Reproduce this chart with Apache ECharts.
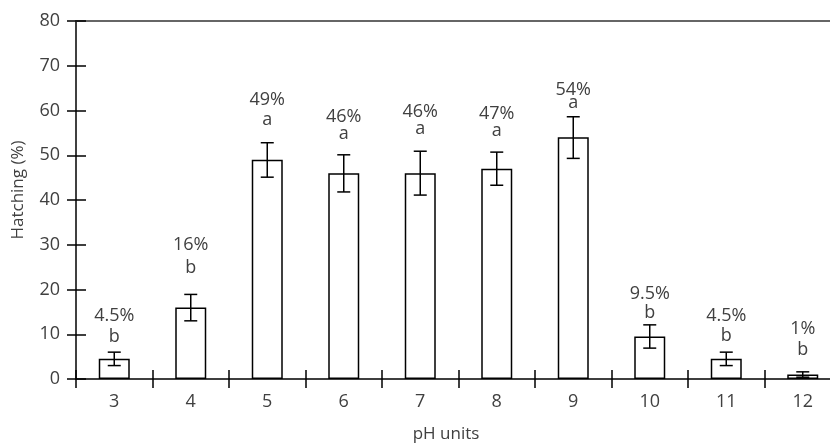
<!DOCTYPE html>
<html>
<head>
<meta charset="utf-8">
<script src="https://cdn.jsdelivr.net/npm/echarts@6/dist/echarts.min.js"></script>
<style>
html,body{margin:0;padding:0;background:#fff;}
#chart{width:830px;height:443px;}
</style>
</head>
<body>
<div id="chart"></div>
<script>
const categories = ['3','4','5','6','7','8','9','10','11','12'];
const hatching = [4.5, 16, 49, 46, 46, 47, 54, 9.5, 4.5, 1];
const errLow  = [3.0, 13.0, 45.1, 41.8, 41.1, 43.3, 49.3, 6.9, 3.0, 0.4];
const errHigh = [6.0, 18.9, 52.8, 50.1, 50.9, 50.7, 58.6, 12.1, 6.0, 1.6];
const pctLabels = ['4.5%','16%','49%','46%','46%','47%','54%','9.5%','4.5%','1%'];
const groupLetters = ['b','b','a','a','a','a','a','b','b','b'];
const pctLabelAt = [14.1, 29.9, 62.3, 58.5, 59.6, 59.2, 64.7, 19.0, 14.1, 11.3];
const letterLabelAt = [9.5, 24.9, 57.9, 54.7, 56.0, 55.4, 61.8, 14.7, 9.6, 6.5];
const yTicks = {min: 0, max: 80, interval: 10};

const FONT = '"Open Sans", "Noto Sans", sans-serif';
const TXT = '#404040';

const chart = echarts.init(document.getElementById('chart'));
chart.setOption({
  animation: false,
  backgroundColor: '#fff',
  grid: {left: 76, right: -11, top: 21, bottom: 64, containLabel: false, outerBoundsMode: 'none'},
  xAxis: [
    {
      type: 'category', data: categories, position: 'bottom',
      axisLine: {show: true, lineStyle: {color: '#000', width: 1.5}},
      axisTick: {show: true, length: 9, lineStyle: {color: '#000', width: 1.5}},
      axisLabel: {margin: 14, fontSize: 18, color: TXT, fontFamily: FONT},
      splitLine: {show: false},
      name: 'pH units', nameLocation: 'middle', nameGap: 47,
      nameTextStyle: {fontSize: 17, color: TXT, fontFamily: FONT, padding: [0, 25, 0, 0]}
    },
    {
      type: 'category', data: categories, position: 'bottom',
      axisLine: {show: false},
      axisTick: {show: true, inside: true, length: 9, lineStyle: {color: '#000', width: 1.5}},
      axisLabel: {show: false}, splitLine: {show: false}
    },
    {
      type: 'category', data: categories, position: 'top',
      axisLine: {show: true, lineStyle: {color: '#666', width: 2}},
      axisTick: {show: false}, axisLabel: {show: false}, splitLine: {show: false}
    }
  ],
  yAxis: [
    {
      type: 'value', min: yTicks.min, max: yTicks.max, interval: yTicks.interval, position: 'left',
      axisLine: {show: true, lineStyle: {color: '#000', width: 1.5}},
      axisTick: {show: true, length: 9, lineStyle: {color: '#000', width: 1.5}},
      axisLabel: {margin: 16, fontSize: 18, color: TXT, fontFamily: FONT},
      splitLine: {show: false},
      name: 'Hatching (%)', nameLocation: 'middle', nameGap: 49,
      nameTextStyle: {fontSize: 17, color: TXT, fontFamily: FONT, padding: [0, 0, 0, 20]}
    },
    {
      type: 'value', min: yTicks.min, max: yTicks.max, interval: yTicks.interval, position: 'left',
      axisLine: {show: false},
      axisTick: {show: true, inside: true, length: 10, lineStyle: {color: '#000', width: 1.5}},
      axisLabel: {show: false}, splitLine: {show: false}
    }
  ],
  series: [
    {
      type: 'bar', data: hatching, barWidth: 31, xAxisIndex: 0, yAxisIndex: 0,
      itemStyle: {color: '#fff', borderColor: '#000', borderWidth: 1.5},
      silent: true
    },
    {
      type: 'custom', xAxisIndex: 0, yAxisIndex: 0, silent: true,
      data: categories.map((c, i) => [i, errLow[i], errHigh[i]]),
      encode: {x: 0, y: [1, 2]},
      renderItem: function (params, api) {
        const lo = api.coord([api.value(0), api.value(1)]);
        const hi = api.coord([api.value(0), api.value(2)]);
        const hw = 6.5;
        const st = {stroke: '#000', lineWidth: 1.5};
        return {type: 'group', children: [
          {type: 'line', shape: {x1: lo[0], y1: lo[1], x2: hi[0], y2: hi[1]}, style: st},
          {type: 'line', shape: {x1: hi[0] - hw, y1: hi[1], x2: hi[0] + hw, y2: hi[1]}, style: st},
          {type: 'line', shape: {x1: lo[0] - hw, y1: lo[1], x2: lo[0] + hw, y2: lo[1]}, style: st}
        ]};
      },
      z: 3
    },
    {
      type: 'custom', xAxisIndex: 0, yAxisIndex: 0, silent: true,
      data: categories.map((c, i) => [i, pctLabelAt[i], letterLabelAt[i]]),
      encode: {x: 0, y: [1, 2]},
      renderItem: function (params, api) {
        const i = params.dataIndex;
        const p = api.coord([api.value(0), api.value(1)]);
        const l = api.coord([api.value(0), api.value(2)]);
        const font = '18px ' + FONT;
        return {type: 'group', children: [
          {type: 'text', x: p[0], y: p[1], style: {text: pctLabels[i], align: 'center', verticalAlign: 'middle', font: font, fill: TXT}},
          {type: 'text', x: l[0], y: l[1], style: {text: groupLetters[i], align: 'center', verticalAlign: 'middle', font: font, fill: TXT}}
        ]};
      },
      z: 4
    }
  ]
});
</script>
</body>
</html>
